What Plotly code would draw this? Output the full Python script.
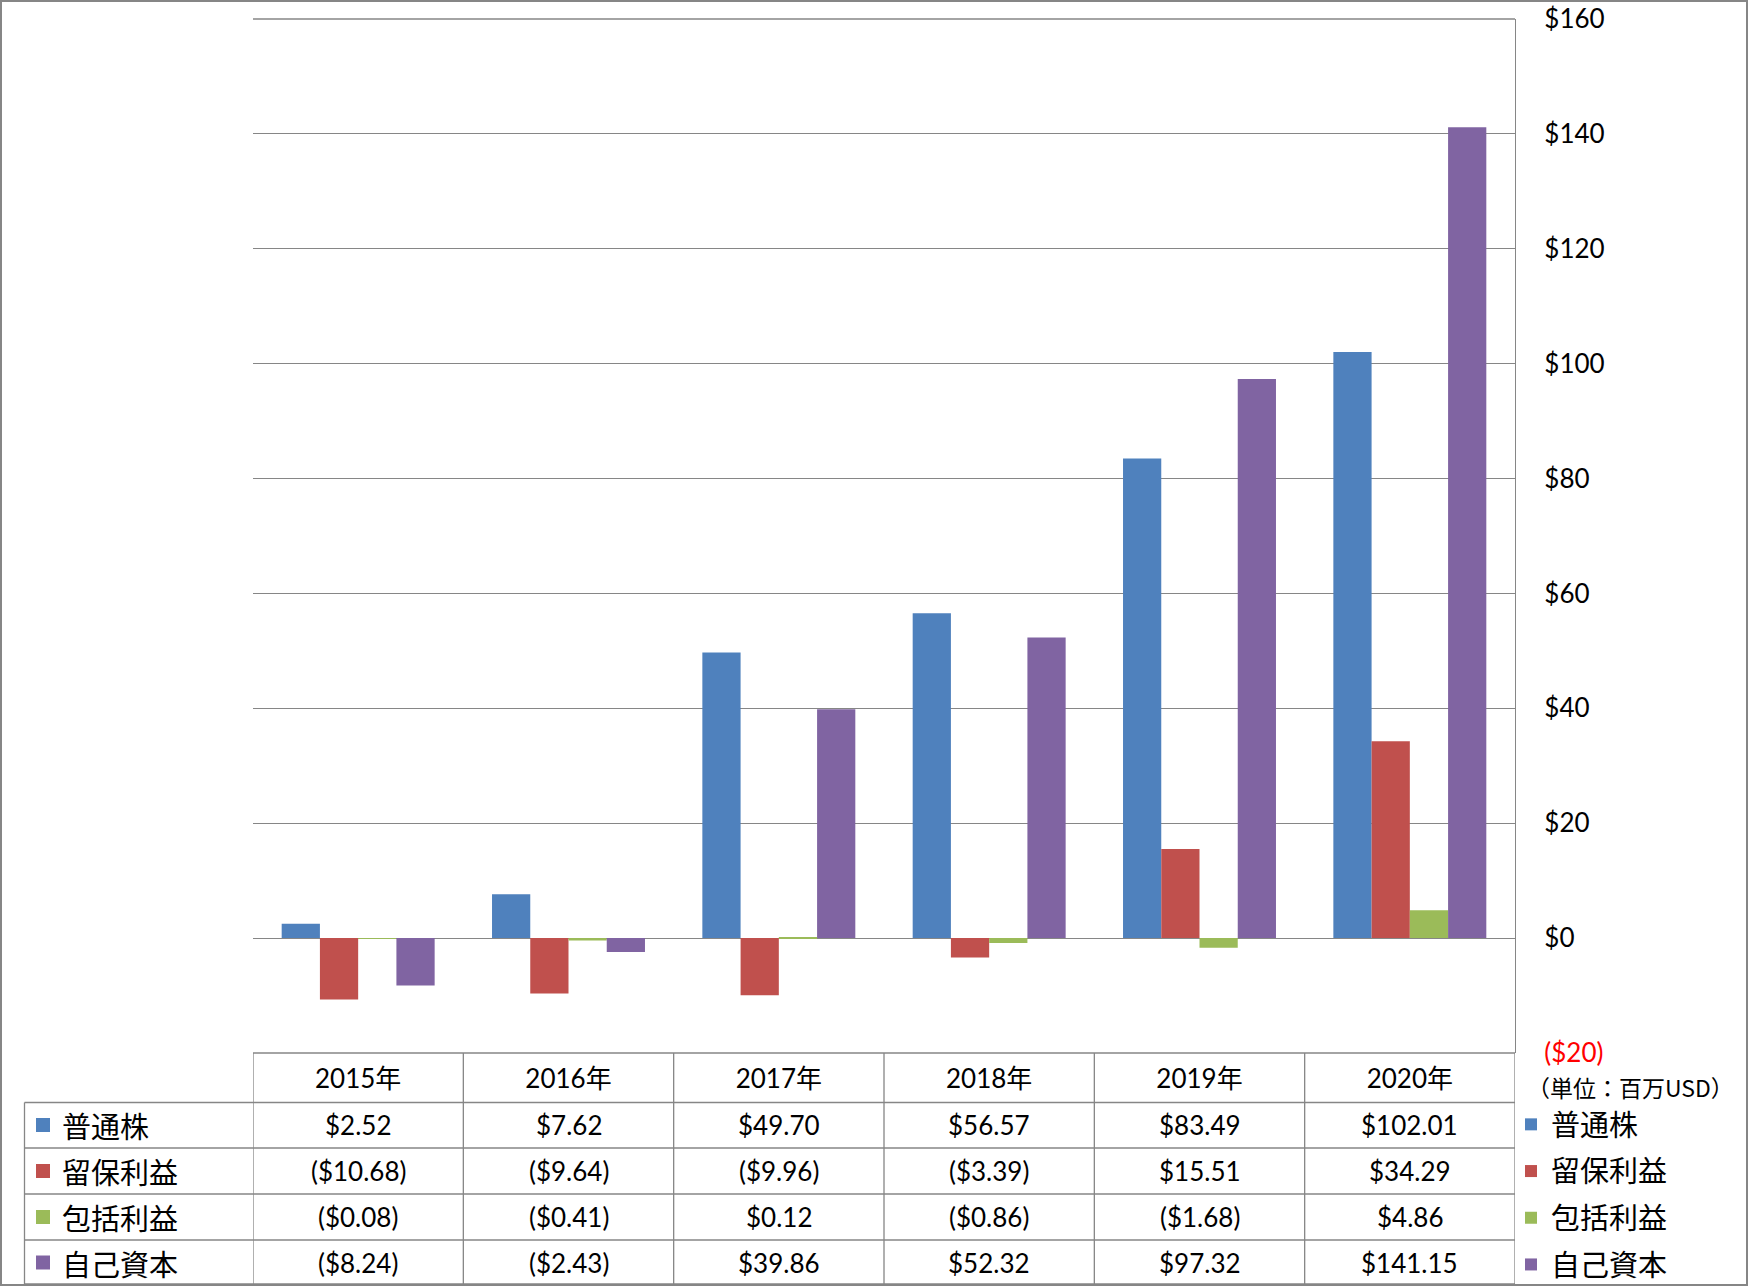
import plotly.graph_objects as go

# ---------------- data ----------------
years = ["2015年", "2016年", "2017年", "2018年", "2019年", "2020年"]
series_names = ["普通株", "留保利益", "包括利益", "自己資本"]
common_stock = [2.52, 7.62, 49.70, 56.57, 83.49, 102.01]
retained_earnings = [-10.68, -9.64, -9.96, -3.39, 15.51, 34.29]
comprehensive_income = [-0.08, -0.41, 0.12, -0.86, -1.68, 4.86]
equity = [-8.24, -2.43, 39.86, 52.32, 97.32, 141.15]
y_tickvals = [-20, 0, 20, 40, 60, 80, 100, 120, 140, 160]
y_ticktext = ["<span style='color:#FF0000'>($20)</span>", "$0", "$20", "$40", "$60",
              "$80", "$100", "$120", "$140", "$160"]
unit_label = "（単位：百万USD）"

series_values = [common_stock, retained_earnings, comprehensive_income, equity]
colors = ["#4F81BD", "#C0504D", "#9BBB59", "#8064A2"]

# ---------------- geometry (pixels) ----------------
W, H = 1748, 1286
L, R, T, B = 253, 233, 19, 233
PW = W - L - R
PH = H - T - B
GRAY = "#868686"


def px_x(px):
    return (px - L) / PW


def px_y(py):
    return (H - B - py) / PH


def fmt(v):
    return f"(${abs(v):.2f})" if v < 0 else f"${v:.2f}"


NUM_FONT = "Lato, Noto Sans CJK JP"
CJK_FONT = "Noto Sans CJK JP"

fig = go.Figure()
for name, vals, c in zip(series_names, series_values, colors):
    fig.add_trace(go.Bar(
        x=years, y=vals, name=name, marker=dict(color=c, line=dict(width=0)),
        legendgroup=name,
    ))

shapes = []
ann = []

# table geometry
header_top = H - B
row_lines = [1102.5, 1148, 1194, 1240, 1285]
row_centers = [1125, 1171, 1217, 1262.5]
table_left = 24.5


def hline(x0, x1, y, xref="paper"):
    shapes.append(dict(type="line", xref=xref, yref="paper",
                       x0=x0, x1=x1, y0=px_y(y), y1=px_y(y),
                       line=dict(color=GRAY, width=1.3)))


def vline(x, y0, y1, xref="paper"):
    shapes.append(dict(type="line", xref=xref, yref="paper",
                       x0=x, x1=x, y0=px_y(y0), y1=px_y(y1),
                       line=dict(color=GRAY, width=1.3)))


# top gridline (at range edge)
hline(px_x(L), px_x(W - R), T)
# header top line
hline(px_x(L), px_x(W - R), header_top)
for yl in row_lines[:-1]:
    hline(px_x(table_left), px_x(W - R), yl)
hline(px_x(table_left), px_x(W - R), 1284)
# vertical lines at category boundaries
for i in range(len(years) + 1):
    vline(i - 0.5, header_top, 1285, xref="x")
vline(px_x(table_left), row_lines[0], 1285)

# table values
for r, (vals, c, name) in enumerate(zip(series_values, colors, series_names)):
    yc = row_centers[r]
    for i, v in enumerate(vals):
        ann.append(dict(x=years[i], xref="x", y=px_y(yc), yref="paper",
                        text=fmt(v), showarrow=False,
                        font=dict(family=NUM_FONT, size=26, color="#000000"),
                        xanchor="center", yanchor="middle"))
    # row key
    shapes.append(dict(type="rect", xref="paper", yref="paper",
                       x0=px_x(36), x1=px_x(50), y0=px_y(yc - 7), y1=px_y(yc + 7),
                       fillcolor=c, line=dict(width=0)))
    ann.append(dict(x=px_x(60), xref="paper", y=px_y(yc), yref="paper",
                    text=name, showarrow=False, xanchor="left", yanchor="middle",
                    font=dict(family=CJK_FONT, size=29, color="#000000")))

# unit label
ann.append(dict(x=px_x(1630), xref="paper", y=px_y(1087), yref="paper",
                text=unit_label, showarrow=False, xanchor="center", yanchor="middle",
                font=dict(family=CJK_FONT, size=23, color="#000000")))

# outer frame
shapes.append(dict(type="rect", xref="paper", yref="paper",
                   x0=px_x(1), x1=px_x(W - 1), y0=px_y(1), y1=px_y(H - 1),
                   line=dict(color=GRAY, width=2), fillcolor="rgba(0,0,0,0)"))

fig.update_layout(
    width=W, height=H,
    margin=dict(l=L, r=R, t=T, b=B, autoexpand=False),
    paper_bgcolor="white", plot_bgcolor="white",
    barmode="group", bargap=1.5 / 5.5, bargroupgap=0,
    showlegend=True,
    legend=dict(x=px_x(1511), y=px_y(1099), xanchor="left", yanchor="top",
                font=dict(family=CJK_FONT, size=29, color="#000000"),
                tracegroupgap=6, bgcolor="rgba(0,0,0,0)", borderwidth=0,
                traceorder="grouped"),
    shapes=shapes, annotations=ann,
    xaxis=dict(type="category", range=[-0.5, 5.5], showgrid=False, zeroline=False,
               showline=False, ticks="", tickfont=dict(family=NUM_FONT, size=26, color="#000000"),
               ticklabelstandoff=8, fixedrange=True),
    yaxis=dict(range=[-20, 160], side="right", tickvals=y_tickvals, ticktext=y_ticktext,
               showgrid=True, gridcolor=GRAY, gridwidth=1,
               zeroline=True, zerolinecolor=GRAY, zerolinewidth=1.3,
               showline=True, linecolor=GRAY, linewidth=1.3, ticks="",
               ticklabelstandoff=23,
               tickfont=dict(family=NUM_FONT, size=26, color="#000000"),
               fixedrange=True),
)

fig.write_html("out.html", config={"displayModeBar": False},
               post_script="document.body.style.margin='0px';")
